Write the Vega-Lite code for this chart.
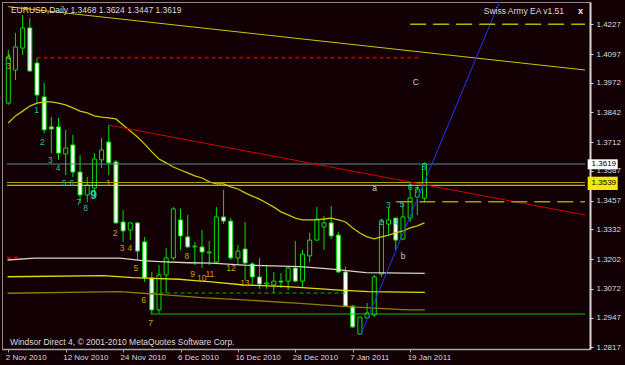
{
  "$schema": "https://vega.github.io/schema/vega-lite/v6.json",
  "width": 588,
  "height": 347,
  "autosize": {"type": "none"},
  "padding": {"left": 2, "top": 2, "right": 35, "bottom": 16},
  "background": "#130005",
  "config": {
    "view": {"stroke": "#8c8c8c", "strokeWidth": 1, "fill": "#130005"},
    "font": "Liberation Sans",
    "axis": {"labelFont": "Liberation Sans", "labelFontSize": 8, "labelColor": "#dcdcdc", "grid": false, "labelFlush": false, "labelOverlap": false}
  },
  "resolve": {"scale": {"color": "independent"}},
  "datasets": {
    "candles": [
      {"i":0,"o":1.3883,"h":1.4115,"l":1.3875,"c":1.4084},
      {"i":1,"o":1.4027,"h":1.4189,"l":1.3984,"c":1.4128},
      {"i":2,"o":1.4123,"h":1.4268,"l":1.4093,"c":1.4211},
      {"i":3,"o":1.4211,"h":1.4254,"l":1.4019,"c":1.4023},
      {"i":4,"o":1.4058,"h":1.4080,"l":1.3883,"c":1.3918},
      {"i":5,"o":1.3910,"h":1.3971,"l":1.3752,"c":1.3766},
      {"i":6,"o":1.3779,"h":1.3822,"l":1.3665,"c":1.3770},
      {"i":7,"o":1.3779,"h":1.3818,"l":1.3635,"c":1.3665},
      {"i":8,"o":1.3661,"h":1.3766,"l":1.3569,"c":1.3687},
      {"i":9,"o":1.3700,"h":1.3744,"l":1.3560,"c":1.3582},
      {"i":10,"o":1.3582,"h":1.3656,"l":1.3447,"c":1.3482},
      {"i":11,"o":1.3482,"h":1.3560,"l":1.3451,"c":1.3525},
      {"i":12,"o":1.3512,"h":1.3665,"l":1.3473,"c":1.3639},
      {"i":13,"o":1.3635,"h":1.3731,"l":1.3600,"c":1.3678},
      {"i":14,"o":1.3713,"h":1.3787,"l":1.3569,"c":1.3622},
      {"i":15,"o":1.3626,"h":1.3635,"l":1.3355,"c":1.3360},
      {"i":16,"o":1.3364,"h":1.3416,"l":1.3277,"c":1.3325},
      {"i":17,"o":1.3329,"h":1.3364,"l":1.3285,"c":1.3360},
      {"i":18,"o":1.3360,"h":1.3362,"l":1.3198,"c":1.3237},
      {"i":19,"o":1.3277,"h":1.3299,"l":1.3102,"c":1.3120},
      {"i":20,"o":1.3120,"h":1.3146,"l":1.2962,"c":1.2980},
      {"i":21,"o":1.2980,"h":1.3176,"l":1.2967,"c":1.3133},
      {"i":22,"o":1.3133,"h":1.3250,"l":1.3054,"c":1.3207},
      {"i":23,"o":1.3207,"h":1.3429,"l":1.3198,"c":1.3421},
      {"i":24,"o":1.3373,"h":1.3421,"l":1.3242,"c":1.3303},
      {"i":25,"o":1.3299,"h":1.3395,"l":1.3250,"c":1.3255},
      {"i":26,"o":1.3255,"h":1.3277,"l":1.3176,"c":1.3259},
      {"i":27,"o":1.3255,"h":1.3329,"l":1.3163,"c":1.3233},
      {"i":28,"o":1.3229,"h":1.3281,"l":1.3176,"c":1.3233},
      {"i":29,"o":1.3189,"h":1.3429,"l":1.3185,"c":1.3386},
      {"i":30,"o":1.3386,"h":1.3504,"l":1.3355,"c":1.3368},
      {"i":31,"o":1.3368,"h":1.3381,"l":1.3198,"c":1.3207},
      {"i":32,"o":1.3207,"h":1.3264,"l":1.3176,"c":1.3237},
      {"i":33,"o":1.3246,"h":1.3364,"l":1.3111,"c":1.3185},
      {"i":34,"o":1.3181,"h":1.3189,"l":1.3089,"c":1.3124},
      {"i":35,"o":1.3124,"h":1.3207,"l":1.3072,"c":1.3093},
      {"i":36,"o":1.3093,"h":1.3176,"l":1.3072,"c":1.3098},
      {"i":37,"o":1.3089,"h":1.3146,"l":1.3054,"c":1.3106},
      {"i":38,"o":1.3106,"h":1.3141,"l":1.3076,"c":1.3102},
      {"i":39,"o":1.3106,"h":1.3168,"l":1.3067,"c":1.3163},
      {"i":40,"o":1.3163,"h":1.3281,"l":1.3102,"c":1.3106},
      {"i":41,"o":1.3106,"h":1.3242,"l":1.3080,"c":1.3224},
      {"i":42,"o":1.3216,"h":1.3316,"l":1.3189,"c":1.3285},
      {"i":43,"o":1.3285,"h":1.3429,"l":1.3283,"c":1.3377},
      {"i":44,"o":1.3342,"h":1.3390,"l":1.3242,"c":1.3360},
      {"i":45,"o":1.3360,"h":1.3434,"l":1.3290,"c":1.3303},
      {"i":46,"o":1.3307,"h":1.3320,"l":1.3141,"c":1.3146},
      {"i":47,"o":1.3146,"h":1.3168,"l":1.2993,"c":1.2997},
      {"i":48,"o":1.2997,"h":1.3002,"l":1.2901,"c":1.2906},
      {"i":49,"o":1.2875,"h":1.2949,"l":1.2871,"c":1.2949},
      {"i":50,"o":1.2945,"h":1.3010,"l":1.2943,"c":1.2967},
      {"i":51,"o":1.2958,"h":1.3133,"l":1.2949,"c":1.3124},
      {"i":52,"o":1.3137,"h":1.3373,"l":1.3124,"c":1.3368},
      {"i":53,"o":1.3355,"h":1.3425,"l":1.3307,"c":1.3373},
      {"i":54,"o":1.3381,"h":1.3383,"l":1.3242,"c":1.3285},
      {"i":55,"o":1.3290,"h":1.3451,"l":1.3286,"c":1.3386},
      {"i":56,"o":1.3381,"h":1.3534,"l":1.3364,"c":1.3469},
      {"i":57,"o":1.3473,"h":1.3521,"l":1.3395,"c":1.3508},
      {"i":58,"o":1.3468,"h":1.3624,"l":1.3447,"c":1.3619}
    ],
    "polys": [
      {"name":"ma","i":0,"p":1.3796},{"name":"ma","i":1,"p":1.3827},{"name":"ma","i":2,"p":1.3848},{"name":"ma","i":3,"p":1.3870},
      {"name":"ma","i":4,"p":1.3883},{"name":"ma","i":5,"p":1.3888},{"name":"ma","i":6,"p":1.3888},{"name":"ma","i":7,"p":1.3883},
      {"name":"ma","i":8,"p":1.3875},{"name":"ma","i":9,"p":1.3862},{"name":"ma","i":10,"p":1.3848},{"name":"ma","i":11,"p":1.3840},
      {"name":"ma","i":12,"p":1.3827},{"name":"ma","i":13,"p":1.3822},{"name":"ma","i":14,"p":1.3818},{"name":"ma","i":15,"p":1.3814},
      {"name":"ma","i":16,"p":1.3787},{"name":"ma","i":17,"p":1.3761},{"name":"ma","i":18,"p":1.3735},{"name":"ma","i":19,"p":1.3704},
      {"name":"ma","i":20,"p":1.3670},{"name":"ma","i":21,"p":1.3639},{"name":"ma","i":22,"p":1.3622},{"name":"ma","i":23,"p":1.3604},
      {"name":"ma","i":24,"p":1.3591},{"name":"ma","i":25,"p":1.3578},{"name":"ma","i":26,"p":1.3565},{"name":"ma","i":27,"p":1.3556},
      {"name":"ma","i":28,"p":1.3539},{"name":"ma","i":29,"p":1.3530},{"name":"ma","i":30,"p":1.3530},{"name":"ma","i":31,"p":1.3517},
      {"name":"ma","i":32,"p":1.3508},{"name":"ma","i":33,"p":1.3491},{"name":"ma","i":34,"p":1.3477},{"name":"ma","i":35,"p":1.3464},
      {"name":"ma","i":36,"p":1.3447},{"name":"ma","i":37,"p":1.3429},{"name":"ma","i":38,"p":1.3408},{"name":"ma","i":39,"p":1.3395},
      {"name":"ma","i":40,"p":1.3381},{"name":"ma","i":41,"p":1.3373},{"name":"ma","i":42,"p":1.3373},{"name":"ma","i":43,"p":1.3373},
      {"name":"ma","i":44,"p":1.3377},{"name":"ma","i":45,"p":1.3381},{"name":"ma","i":46,"p":1.3373},{"name":"ma","i":47,"p":1.3364},
      {"name":"ma","i":48,"p":1.3338},{"name":"ma","i":49,"p":1.3316},{"name":"ma","i":50,"p":1.3299},{"name":"ma","i":51,"p":1.3290},
      {"name":"ma","i":52,"p":1.3299},{"name":"ma","i":53,"p":1.3307},{"name":"ma","i":54,"p":1.3316},{"name":"ma","i":55,"p":1.3325},
      {"name":"ma","i":56,"p":1.3338},{"name":"ma","i":57,"p":1.3347},{"name":"ma","i":58,"p":1.3360},
      {"name":"la","i":-0.1,"p":1.3198},{"name":"la","i":3.66,"p":1.3206},{"name":"la","i":15.58,"p":1.3206},{"name":"la","i":18.73,"p":1.3195},
      {"name":"la","i":21.05,"p":1.3191},{"name":"la","i":25.16,"p":1.3186},{"name":"la","i":28.3,"p":1.3184},{"name":"la","i":32.84,"p":1.3176},
      {"name":"la","i":40.64,"p":1.3169},{"name":"la","i":45.16,"p":1.3158},{"name":"la","i":48.45,"p":1.3147},{"name":"la","i":49.82,"p":1.3143},
      {"name":"la","i":58.04,"p":1.3140},
      {"name":"lb","i":-0.1,"p":1.3125},{"name":"lb","i":13.25,"p":1.3130},{"name":"lb","i":17.36,"p":1.3121},{"name":"lb","i":20.1,"p":1.3118},
      {"name":"lb","i":23.8,"p":1.3114},{"name":"lb","i":25.99,"p":1.3108},{"name":"lb","i":28.3,"p":1.3103},{"name":"lb","i":32.84,"p":1.3089},
      {"name":"lb","i":38.86,"p":1.3082},{"name":"lb","i":42.01,"p":1.3075},{"name":"lb","i":46.12,"p":1.3067},{"name":"lb","i":50.23,"p":1.3060},
      {"name":"lb","i":58.04,"p":1.3057},
      {"name":"lc","i":-0.1,"p":1.3053},{"name":"lc","i":15.58,"p":1.3060},{"name":"lc","i":18.73,"p":1.3053},{"name":"lc","i":22.42,"p":1.3045},
      {"name":"lc","i":26.95,"p":1.3034},{"name":"lc","i":32.84,"p":1.3024},{"name":"lc","i":40.64,"p":1.3009},{"name":"lc","i":46.12,"p":1.2997},
      {"name":"lc","i":51.6,"p":1.2987},{"name":"lc","i":55.71,"p":1.2980},{"name":"lc","i":58.04,"p":1.2980}
    ],
    "segs": [
      {"name":"bid","x1":-0.18,"x2":80.37,"y1":1.3617,"y2":1.3617},
      {"name":"lvlA","x1":-0.18,"x2":80.37,"y1":1.35364,"y2":1.35364},
      {"name":"lvlB","x1":-0.18,"x2":80.37,"y1":1.35241,"y2":1.35241},
      {"name":"trend","x1":0,"x2":80.37,"y1":1.43037,"y2":1.40274},
      {"name":"red","x1":13.93,"x2":80.37,"y1":1.37873,"y2":1.33945},
      {"name":"reddash","x1":3.93,"x2":57.36,"y1":1.40811,"y2":1.40811},
      {"name":"redsmall","x1":-0.18,"x2":1.6,"y1":1.32081,"y2":1.32081},
      {"name":"topdash","x1":56,"x2":80.37,"y1":1.4227,"y2":1.4227},
      {"name":"olivedash","x1":54.07,"x2":80.37,"y1":1.34525,"y2":1.34525},
      {"name":"greendash","x1":20.1,"x2":47.1,"y1":1.3054,"y2":1.3054},
      {"name":"green","x1":19.8,"x2":80.37,"y1":1.29624,"y2":1.29624},
      {"name":"blue","x1":49.1,"x2":68.45,"y1":1.28707,"y2":1.43242}
    ],
    "labels": [
      {"t":"1","i":3.93,"p":1.3853,"g":"teal"},{"t":"2","i":4.75,"p":1.3713,"g":"teal"},{"t":"3","i":5.85,"p":1.3635,"g":"teal"},
      {"t":"4","i":6.95,"p":1.3600,"g":"teal"},{"t":"5","i":7.77,"p":1.3534,"g":"teal"},{"t":"6","i":8.86,"p":1.3534,"g":"teal"},
      {"t":"7","i":9.82,"p":1.3451,"g":"teal"},{"t":"8","i":10.78,"p":1.3425,"g":"teal"},
      {"t":"4","i":0.0,"p":1.4084,"g":"gold"},{"t":"3","i":0.0,"p":1.4045,"g":"gold"},
      {"t":"1","i":13.93,"p":1.3534,"g":"gold"},{"t":"2","i":14.89,"p":1.3316,"g":"gold"},{"t":"3","i":15.85,"p":1.3250,"g":"gold"},
      {"t":"4","i":16.95,"p":1.3250,"g":"gold"},{"t":"5","i":17.77,"p":1.3163,"g":"gold"},{"t":"6","i":18.86,"p":1.3024,"g":"gold"},
      {"t":"7","i":19.82,"p":1.2923,"g":"gold"},{"t":"8","i":24.89,"p":1.3216,"g":"gold"},{"t":"9","i":25.7,"p":1.3137,"g":"gold"},
      {"t":"10","i":26.95,"p":1.3120,"g":"gold"},{"t":"11","i":28.1,"p":1.3137,"g":"gold"},{"t":"12","i":31.05,"p":1.3163,"g":"gold"},
      {"t":"13","i":32.97,"p":1.3098,"g":"gold"},
      {"t":"a","i":51.05,"p":1.3512,"g":"gray"},{"t":"b","i":55.03,"p":1.3216,"g":"gray"},{"t":"C","i":56.8,"p":1.3975,"g":"gray"},
      {"t":"2","i":52.01,"p":1.3364,"g":"teal"},{"t":"3","i":52.97,"p":1.3438,"g":"teal"},{"t":"4","i":53.93,"p":1.3364,"g":"teal"},
      {"t":"5","i":54.89,"p":1.3443,"g":"teal"},{"t":"6","i":55.99,"p":1.3517,"g":"teal"},{"t":"7","i":56.95,"p":1.3504,"g":"teal"},
      {"t":"8","i":57.9,"p":1.3604,"g":"teal"}
    ]
  },
  "layer": [
    {
      "data": {"name": "candles"},
      "mark": {"type": "rule", "color": "#00e000", "strokeWidth": 1},
      "encoding": {
        "x": {"field": "i", "type": "quantitative", "scale": {"domain": [-0.18, 80.37], "nice": false, "zero": false},
          "axis": {"orient": "bottom", "title": null, "values": [0, 8, 16, 24, 32, 40, 48, 56], "labelExpr": "['2 Nov 2010','12 Nov 2010','24 Nov 2010','6 Dec 2010','16 Dec 2010','28 Dec 2010','7 Jan 2011','19 Jan 2011'][round(datum.value/8)]", "tickSize": 3, "labelAlign": "left", "labelBaseline": "top", "labelPadding": 1, "labelOffset": -3, "domainWidth": 1.5, "domainColor": "#a8a8a8", "tickColor": "#a8a8a8"}},
        "y": {"field": "l", "type": "quantitative", "scale": {"domain": [1.28096, 1.43242], "nice": false, "zero": false},
          "axis": {"orient": "right", "title": null, "values": [1.2817, 1.2947, 1.3072, 1.3202, 1.3332, 1.3457, 1.3587, 1.3712, 1.3842, 1.3972, 1.4097, 1.4227], "format": ".4f", "tickSize": 3, "labelPadding": 3, "labelAlign": "left", "domainWidth": 2, "domainColor": "#d8d8d8", "tickColor": "#d8d8d8"}},
        "y2": {"field": "h"}
      }
    },
    {
      "data": {"name": "candles"},
      "transform": [{"filter": "datum.c >= datum.o"}],
      "mark": {"type": "bar", "size": 4, "fill": "#130005", "stroke": "#00e000", "strokeWidth": 1},
      "encoding": {
        "x": {"field": "i", "type": "quantitative", "scale": {"domain": [-0.18, 80.37], "nice": false, "zero": false},
          "axis": {"orient": "bottom", "title": null, "values": [0, 8, 16, 24, 32, 40, 48, 56], "labelExpr": "['2 Nov 2010','12 Nov 2010','24 Nov 2010','6 Dec 2010','16 Dec 2010','28 Dec 2010','7 Jan 2011','19 Jan 2011'][round(datum.value/8)]", "tickSize": 3, "labelAlign": "left", "labelBaseline": "top", "labelPadding": 1, "labelOffset": -3, "domainWidth": 1.5, "domainColor": "#a8a8a8", "tickColor": "#a8a8a8"}},
        "y": {"field": "o", "type": "quantitative", "scale": {"domain": [1.28096, 1.43242], "nice": false, "zero": false},
          "axis": {"orient": "right", "title": null, "values": [1.2817, 1.2947, 1.3072, 1.3202, 1.3332, 1.3457, 1.3587, 1.3712, 1.3842, 1.3972, 1.4097, 1.4227], "format": ".4f", "tickSize": 3, "labelPadding": 3, "labelAlign": "left", "domainWidth": 2, "domainColor": "#d8d8d8", "tickColor": "#d8d8d8"}},
        "y2": {"field": "c"}
      }
    },
    {
      "data": {"name": "candles"},
      "transform": [{"filter": "datum.c < datum.o"}],
      "mark": {"type": "bar", "size": 4, "fill": "#ffffff", "stroke": "#00e000", "strokeWidth": 1},
      "encoding": {
        "x": {"field": "i", "type": "quantitative", "scale": {"domain": [-0.18, 80.37], "nice": false, "zero": false},
          "axis": {"orient": "bottom", "title": null, "values": [0, 8, 16, 24, 32, 40, 48, 56], "labelExpr": "['2 Nov 2010','12 Nov 2010','24 Nov 2010','6 Dec 2010','16 Dec 2010','28 Dec 2010','7 Jan 2011','19 Jan 2011'][round(datum.value/8)]", "tickSize": 3, "labelAlign": "left", "labelBaseline": "top", "labelPadding": 1, "labelOffset": -3, "domainWidth": 1.5, "domainColor": "#a8a8a8", "tickColor": "#a8a8a8"}},
        "y": {"field": "o", "type": "quantitative", "scale": {"domain": [1.28096, 1.43242], "nice": false, "zero": false},
          "axis": {"orient": "right", "title": null, "values": [1.2817, 1.2947, 1.3072, 1.3202, 1.3332, 1.3457, 1.3587, 1.3712, 1.3842, 1.3972, 1.4097, 1.4227], "format": ".4f", "tickSize": 3, "labelPadding": 3, "labelAlign": "left", "domainWidth": 2, "domainColor": "#d8d8d8", "tickColor": "#d8d8d8"}},
        "y2": {"field": "c"}
      }
    },
    {
      "data": {"name": "polys"},
      "mark": {"type": "line", "strokeWidth": 1.3},
      "encoding": {
        "x": {"field": "i", "type": "quantitative", "scale": {"domain": [-0.18, 80.37], "nice": false, "zero": false},
          "axis": {"orient": "bottom", "title": null, "values": [0, 8, 16, 24, 32, 40, 48, 56], "labelExpr": "['2 Nov 2010','12 Nov 2010','24 Nov 2010','6 Dec 2010','16 Dec 2010','28 Dec 2010','7 Jan 2011','19 Jan 2011'][round(datum.value/8)]", "tickSize": 3, "labelAlign": "left", "labelBaseline": "top", "labelPadding": 1, "labelOffset": -3, "domainWidth": 1.5, "domainColor": "#a8a8a8", "tickColor": "#a8a8a8"}},
        "y": {"field": "p", "type": "quantitative", "scale": {"domain": [1.28096, 1.43242], "nice": false, "zero": false},
          "axis": {"orient": "right", "title": null, "values": [1.2817, 1.2947, 1.3072, 1.3202, 1.3332, 1.3457, 1.3587, 1.3712, 1.3842, 1.3972, 1.4097, 1.4227], "format": ".4f", "tickSize": 3, "labelPadding": 3, "labelAlign": "left", "domainWidth": 2, "domainColor": "#d8d8d8", "tickColor": "#d8d8d8"}},
        "color": {"field": "name", "type": "nominal", "scale": {"domain": ["ma", "la", "lb", "lc"], "range": ["#c8c800", "#d4d4c8", "#dede00", "#8a7e00"]}, "legend": null}
      }
    },
    {
      "data": {"name": "segs"},
      "transform": [{"filter": {"field": "name", "oneOf": ["bid", "lvlB", "green", "blue", "trend", "red", "lvlA"]}}],
      "mark": {"type": "rule", "strokeWidth": 1},
      "encoding": {
        "x": {"field": "x1", "type": "quantitative", "scale": {"domain": [-0.18, 80.37], "nice": false, "zero": false},
          "axis": {"orient": "bottom", "title": null, "values": [0, 8, 16, 24, 32, 40, 48, 56], "labelExpr": "['2 Nov 2010','12 Nov 2010','24 Nov 2010','6 Dec 2010','16 Dec 2010','28 Dec 2010','7 Jan 2011','19 Jan 2011'][round(datum.value/8)]", "tickSize": 3, "labelAlign": "left", "labelBaseline": "top", "labelPadding": 1, "labelOffset": -3, "domainWidth": 1.5, "domainColor": "#a8a8a8", "tickColor": "#a8a8a8"}},
        "x2": {"field": "x2"},
        "y": {"field": "y1", "type": "quantitative", "scale": {"domain": [1.28096, 1.43242], "nice": false, "zero": false},
          "axis": {"orient": "right", "title": null, "values": [1.2817, 1.2947, 1.3072, 1.3202, 1.3332, 1.3457, 1.3587, 1.3712, 1.3842, 1.3972, 1.4097, 1.4227], "format": ".4f", "tickSize": 3, "labelPadding": 3, "labelAlign": "left", "domainWidth": 2, "domainColor": "#d8d8d8", "tickColor": "#d8d8d8"}},
        "y2": {"field": "y2"},
        "color": {"field": "name", "type": "nominal", "legend": null,
          "scale": {"domain": ["bid", "lvlA", "lvlB", "trend", "red", "green", "blue"], "range": ["#5e8a8f", "#a8a800", "#e6e600", "#c8c800", "#d00000", "#00c800", "#2233ff"]}},
        "strokeWidth": {"condition": {"test": "datum.name == 'lvlA'", "value": 2}, "value": 1}
      }
    },
    {
      "data": {"name": "segs"},
      "transform": [{"filter": {"field": "name", "oneOf": ["reddash", "redsmall", "greendash"]}}],
      "mark": {"type": "rule", "strokeDash": [4, 3]},
      "encoding": {
        "x": {"field": "x1", "type": "quantitative", "scale": {"domain": [-0.18, 80.37], "nice": false, "zero": false},
          "axis": {"orient": "bottom", "title": null, "values": [0, 8, 16, 24, 32, 40, 48, 56], "labelExpr": "['2 Nov 2010','12 Nov 2010','24 Nov 2010','6 Dec 2010','16 Dec 2010','28 Dec 2010','7 Jan 2011','19 Jan 2011'][round(datum.value/8)]", "tickSize": 3, "labelAlign": "left", "labelBaseline": "top", "labelPadding": 1, "labelOffset": -3, "domainWidth": 1.5, "domainColor": "#a8a8a8", "tickColor": "#a8a8a8"}},
        "x2": {"field": "x2"},
        "y": {"field": "y1", "type": "quantitative", "scale": {"domain": [1.28096, 1.43242], "nice": false, "zero": false},
          "axis": {"orient": "right", "title": null, "values": [1.2817, 1.2947, 1.3072, 1.3202, 1.3332, 1.3457, 1.3587, 1.3712, 1.3842, 1.3972, 1.4097, 1.4227], "format": ".4f", "tickSize": 3, "labelPadding": 3, "labelAlign": "left", "domainWidth": 2, "domainColor": "#d8d8d8", "tickColor": "#d8d8d8"}},
        "y2": {"field": "y2"},
        "color": {"field": "name", "type": "nominal", "legend": null,
          "scale": {"domain": ["reddash", "redsmall", "greendash"], "range": ["#a00000", "#c00000", "#00b000"]}},
        "strokeWidth": {"condition": {"test": "datum.name == 'greendash'", "value": 1}, "value": 2}
      }
    },
    {
      "data": {"name": "segs"},
      "transform": [{"filter": {"field": "name", "oneOf": ["topdash", "olivedash"]}}],
      "mark": {"type": "rule", "strokeDash": [16, 7], "strokeWidth": 1.5},
      "encoding": {
        "x": {"field": "x1", "type": "quantitative", "scale": {"domain": [-0.18, 80.37], "nice": false, "zero": false},
          "axis": {"orient": "bottom", "title": null, "values": [0, 8, 16, 24, 32, 40, 48, 56], "labelExpr": "['2 Nov 2010','12 Nov 2010','24 Nov 2010','6 Dec 2010','16 Dec 2010','28 Dec 2010','7 Jan 2011','19 Jan 2011'][round(datum.value/8)]", "tickSize": 3, "labelAlign": "left", "labelBaseline": "top", "labelPadding": 1, "labelOffset": -3, "domainWidth": 1.5, "domainColor": "#a8a8a8", "tickColor": "#a8a8a8"}},
        "x2": {"field": "x2"},
        "y": {"field": "y1", "type": "quantitative", "scale": {"domain": [1.28096, 1.43242], "nice": false, "zero": false},
          "axis": {"orient": "right", "title": null, "values": [1.2817, 1.2947, 1.3072, 1.3202, 1.3332, 1.3457, 1.3587, 1.3712, 1.3842, 1.3972, 1.4097, 1.4227], "format": ".4f", "tickSize": 3, "labelPadding": 3, "labelAlign": "left", "domainWidth": 2, "domainColor": "#d8d8d8", "tickColor": "#d8d8d8"}},
        "y2": {"field": "y2"},
        "color": {"field": "name", "type": "nominal", "legend": null,
          "scale": {"domain": ["topdash", "olivedash"], "range": ["#b4b400", "#a0a000"]}}
      }
    },
    {
      "data": {"name": "labels"},
      "mark": {"type": "text", "fontSize": 8.5, "baseline": "middle", "align": "center"},
      "encoding": {
        "x": {"field": "i", "type": "quantitative", "scale": {"domain": [-0.18, 80.37], "nice": false, "zero": false},
          "axis": {"orient": "bottom", "title": null, "values": [0, 8, 16, 24, 32, 40, 48, 56], "labelExpr": "['2 Nov 2010','12 Nov 2010','24 Nov 2010','6 Dec 2010','16 Dec 2010','28 Dec 2010','7 Jan 2011','19 Jan 2011'][round(datum.value/8)]", "tickSize": 3, "labelAlign": "left", "labelBaseline": "top", "labelPadding": 1, "labelOffset": -3, "domainWidth": 1.5, "domainColor": "#a8a8a8", "tickColor": "#a8a8a8"}},
        "y": {"field": "p", "type": "quantitative", "scale": {"domain": [1.28096, 1.43242], "nice": false, "zero": false},
          "axis": {"orient": "right", "title": null, "values": [1.2817, 1.2947, 1.3072, 1.3202, 1.3332, 1.3457, 1.3587, 1.3712, 1.3842, 1.3972, 1.4097, 1.4227], "format": ".4f", "tickSize": 3, "labelPadding": 3, "labelAlign": "left", "domainWidth": 2, "domainColor": "#d8d8d8", "tickColor": "#d8d8d8"}},
        "text": {"field": "t"},
        "color": {"field": "g", "type": "nominal", "legend": null, "scale": {"domain": ["teal", "gold", "gray"], "range": ["#20c0a0", "#c8a000", "#c8c8c8"]}}
      }
    },
    {
      "data": {"values": [{"t": "9", "i": 11.88, "p": 1.3482}]},
      "mark": {"type": "text", "fontSize": 12, "fontWeight": "bold", "baseline": "middle", "align": "center", "color": "#20d0b0"},
      "encoding": {
        "x": {"field": "i", "type": "quantitative", "scale": {"domain": [-0.18, 80.37], "nice": false, "zero": false},
          "axis": {"orient": "bottom", "title": null, "values": [0, 8, 16, 24, 32, 40, 48, 56], "labelExpr": "['2 Nov 2010','12 Nov 2010','24 Nov 2010','6 Dec 2010','16 Dec 2010','28 Dec 2010','7 Jan 2011','19 Jan 2011'][round(datum.value/8)]", "tickSize": 3, "labelAlign": "left", "labelBaseline": "top", "labelPadding": 1, "labelOffset": -3, "domainWidth": 1.5, "domainColor": "#a8a8a8", "tickColor": "#a8a8a8"}},
        "y": {"field": "p", "type": "quantitative", "scale": {"domain": [1.28096, 1.43242], "nice": false, "zero": false},
          "axis": {"orient": "right", "title": null, "values": [1.2817, 1.2947, 1.3072, 1.3202, 1.3332, 1.3457, 1.3587, 1.3712, 1.3842, 1.3972, 1.4097, 1.4227], "format": ".4f", "tickSize": 3, "labelPadding": 3, "labelAlign": "left", "domainWidth": 2, "domainColor": "#d8d8d8", "tickColor": "#d8d8d8"}},
        "text": {"field": "t"}
      }
    },
    {
      "data": {"values": [
        {"t": "EURUSD,Daily  1.3468 1.3624 1.3447 1.3619", "i": 0.37, "p": 1.42893},
        {"t": "Swiss Army EA v1.51", "i": 66.26, "p": 1.4285},
        {"t": "Windsor Direct 4, © 2001-2010 MetaQuotes Software Corp.", "i": 0.23, "p": 1.28423}
      ]},
      "mark": {"type": "text", "fontSize": 8.5, "baseline": "middle", "align": "left", "color": "#dcdcdc"},
      "encoding": {
        "x": {"field": "i", "type": "quantitative", "scale": {"domain": [-0.18, 80.37], "nice": false, "zero": false},
          "axis": {"orient": "bottom", "title": null, "values": [0, 8, 16, 24, 32, 40, 48, 56], "labelExpr": "['2 Nov 2010','12 Nov 2010','24 Nov 2010','6 Dec 2010','16 Dec 2010','28 Dec 2010','7 Jan 2011','19 Jan 2011'][round(datum.value/8)]", "tickSize": 3, "labelAlign": "left", "labelBaseline": "top", "labelPadding": 1, "labelOffset": -3, "domainWidth": 1.5, "domainColor": "#a8a8a8", "tickColor": "#a8a8a8"}},
        "y": {"field": "p", "type": "quantitative", "scale": {"domain": [1.28096, 1.43242], "nice": false, "zero": false},
          "axis": {"orient": "right", "title": null, "values": [1.2817, 1.2947, 1.3072, 1.3202, 1.3332, 1.3457, 1.3587, 1.3712, 1.3842, 1.3972, 1.4097, 1.4227], "format": ".4f", "tickSize": 3, "labelPadding": 3, "labelAlign": "left", "domainWidth": 2, "domainColor": "#d8d8d8", "tickColor": "#d8d8d8"}},
        "text": {"field": "t"}
      }
    },
    {
      "data": {"values": [{"t": "x", "i": 79.41, "p": 1.4285}]},
      "mark": {"type": "text", "fontSize": 9, "fontWeight": "bold", "baseline": "middle", "align": "left", "color": "#f0f0f0"},
      "encoding": {
        "x": {"field": "i", "type": "quantitative", "scale": {"domain": [-0.18, 80.37], "nice": false, "zero": false},
          "axis": {"orient": "bottom", "title": null, "values": [0, 8, 16, 24, 32, 40, 48, 56], "labelExpr": "['2 Nov 2010','12 Nov 2010','24 Nov 2010','6 Dec 2010','16 Dec 2010','28 Dec 2010','7 Jan 2011','19 Jan 2011'][round(datum.value/8)]", "tickSize": 3, "labelAlign": "left", "labelBaseline": "top", "labelPadding": 1, "labelOffset": -3, "domainWidth": 1.5, "domainColor": "#a8a8a8", "tickColor": "#a8a8a8"}},
        "y": {"field": "p", "type": "quantitative", "scale": {"domain": [1.28096, 1.43242], "nice": false, "zero": false},
          "axis": {"orient": "right", "title": null, "values": [1.2817, 1.2947, 1.3072, 1.3202, 1.3332, 1.3457, 1.3587, 1.3712, 1.3842, 1.3972, 1.4097, 1.4227], "format": ".4f", "tickSize": 3, "labelPadding": 3, "labelAlign": "left", "domainWidth": 2, "domainColor": "#d8d8d8", "tickColor": "#d8d8d8"}},
        "text": {"field": "t"}
      }
    },
    {
      "data": {"values": [
        {"k": "bid", "i1": 80.74, "i2": 84.93, "p1": 1.36376, "p2": 1.3594},
        {"k": "lvl", "i1": 80.74, "i2": 84.93, "p1": 1.35617, "p2": 1.35036}
      ]},
      "mark": {"type": "rect"},
      "encoding": {
        "x": {"field": "i1", "type": "quantitative", "scale": {"domain": [-0.18, 80.37], "nice": false, "zero": false},
          "axis": {"orient": "bottom", "title": null, "values": [0, 8, 16, 24, 32, 40, 48, 56], "labelExpr": "['2 Nov 2010','12 Nov 2010','24 Nov 2010','6 Dec 2010','16 Dec 2010','28 Dec 2010','7 Jan 2011','19 Jan 2011'][round(datum.value/8)]", "tickSize": 3, "labelAlign": "left", "labelBaseline": "top", "labelPadding": 1, "labelOffset": -3, "domainWidth": 1.5, "domainColor": "#a8a8a8", "tickColor": "#a8a8a8"}},
        "x2": {"field": "i2"},
        "y": {"field": "p1", "type": "quantitative", "scale": {"domain": [1.28096, 1.43242], "nice": false, "zero": false},
          "axis": {"orient": "right", "title": null, "values": [1.2817, 1.2947, 1.3072, 1.3202, 1.3332, 1.3457, 1.3587, 1.3712, 1.3842, 1.3972, 1.4097, 1.4227], "format": ".4f", "tickSize": 3, "labelPadding": 3, "labelAlign": "left", "domainWidth": 2, "domainColor": "#d8d8d8", "tickColor": "#d8d8d8"}},
        "y2": {"field": "p2"},
        "color": {"field": "k", "type": "nominal", "legend": null, "scale": {"domain": ["bid", "lvl"], "range": ["#ffffff", "#f2ea00"]}}
      }
    },
    {
      "data": {"values": [
        {"t": "1.3619", "i": 81.29, "p": 1.3617},
        {"t": "1.3539", "i": 81.29, "p": 1.3533}
      ]},
      "mark": {"type": "text", "fontSize": 8, "baseline": "middle", "align": "left", "color": "#000000"},
      "encoding": {
        "x": {"field": "i", "type": "quantitative", "scale": {"domain": [-0.18, 80.37], "nice": false, "zero": false},
          "axis": {"orient": "bottom", "title": null, "values": [0, 8, 16, 24, 32, 40, 48, 56], "labelExpr": "['2 Nov 2010','12 Nov 2010','24 Nov 2010','6 Dec 2010','16 Dec 2010','28 Dec 2010','7 Jan 2011','19 Jan 2011'][round(datum.value/8)]", "tickSize": 3, "labelAlign": "left", "labelBaseline": "top", "labelPadding": 1, "labelOffset": -3, "domainWidth": 1.5, "domainColor": "#a8a8a8", "tickColor": "#a8a8a8"}},
        "y": {"field": "p", "type": "quantitative", "scale": {"domain": [1.28096, 1.43242], "nice": false, "zero": false},
          "axis": {"orient": "right", "title": null, "values": [1.2817, 1.2947, 1.3072, 1.3202, 1.3332, 1.3457, 1.3587, 1.3712, 1.3842, 1.3972, 1.4097, 1.4227], "format": ".4f", "tickSize": 3, "labelPadding": 3, "labelAlign": "left", "domainWidth": 2, "domainColor": "#d8d8d8", "tickColor": "#d8d8d8"}},
        "text": {"field": "t"}
      }
    }
  ]
}
